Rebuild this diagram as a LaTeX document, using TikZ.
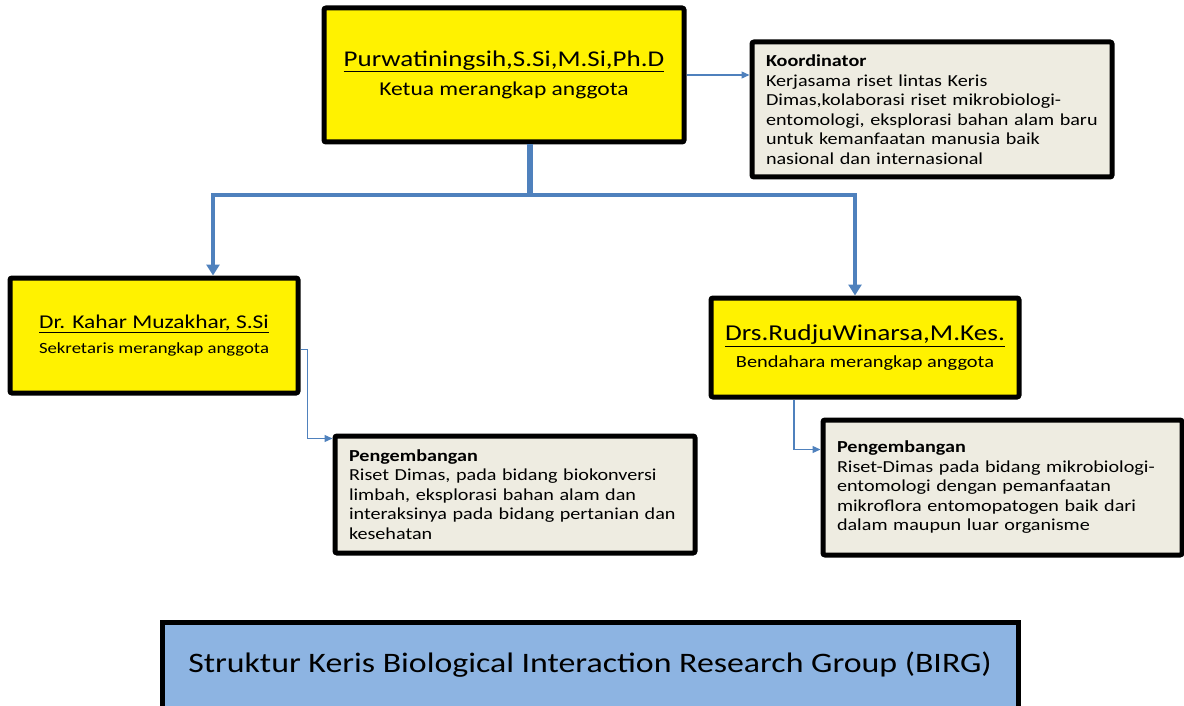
\documentclass[tikz,border=0pt]{standalone}
\usepackage{fontspec}
\setmainfont{Carlito}[FakeStretch=1.2]
\usetikzlibrary{arrows.meta}
\definecolor{boxgrey}{HTML}{EEECE1}
\definecolor{linkblue}{HTML}{4F81BD}
\definecolor{titleblue}{HTML}{8DB4E2}

\begin{document}
\begin{tikzpicture}[x=1pt,y=-1pt,
  namebox/.style={draw=black,line width=5pt,fill=yellow,rounded corners=2pt,align=center,inner sep=0pt},
  descbox/.style={draw=black,line width=5pt,fill=boxgrey,rounded corners=2pt,align=left,inner xsep=14pt,
    font=\fontsize{16.8}{19.5}\selectfont},
  trunk/.style={draw=linkblue,line width=4.5pt},
  link/.style={draw=linkblue,line width=1.3pt,-{Triangle[width=7pt,length=8pt]}}]
\useasboundingbox (0,0) rectangle (1184,706);
% Pengurus
\node[namebox,minimum width=360pt,minimum height=134pt] (ketua) at (504,75)
  {\fontsize{22.5}{28}\selectfont\underline{Purwatiningsih,S.Si,M.Si,Ph.D}\\[9pt]
   \fontsize{19.6}{24}\selectfont Ketua merangkap anggota};
\node[namebox,minimum width=288pt,minimum height=115pt] (sekre) at (154,335.5)
  {\fontsize{19.5}{24}\selectfont\underline{Dr. Kahar Muzakhar, S.Si}\\[8pt]
   \fontsize{15.6}{19}\selectfont Sekretaris merangkap anggota};
\node[namebox,minimum width=308pt,minimum height=99pt] (benda) at (865,347.5)
  {\fontsize{22.7}{28}\selectfont\underline{Drs.RudjuWinarsa,M.Kes.}\\[8pt]
   \fontsize{17}{21}\selectfont Bendahara merangkap anggota};
% Tugas
\node[descbox,minimum width=360pt,minimum height=135pt,text width=332pt] (koord) at (932,109.5)
  {\textbf{Koordinator}\\
   Kerjasama riset lintas Keris\\
   Dimas,kolaborasi riset mikrobiologi-\\
   entomologi, eksplorasi bahan alam baru\\
   untuk kemanfaatan manusia baik\\
   nasional dan internasional};
\node[descbox,minimum width=360pt,minimum height=117pt,text width=332pt] (pengL) at (515,494.5)
  {\textbf{Pengembangan}\\
   Riset Dimas, pada bidang biokonversi\\
   limbah, eksplorasi bahan alam dan\\
   interaksinya pada bidang pertanian dan\\
   kesehatan};
\node[descbox,minimum width=359pt,minimum height=135pt,text width=331pt] (pengR) at (1002.5,487.5)
  {\textbf{Pengembangan}\\
   Riset-Dimas pada bidang mikrobiologi-\\
   entomologi dengan pemanfaatan\\
   mikroflora entomopatogen baik dari\\
   dalam maupun luar organisme};
% Judul
\node[draw=black,line width=5pt,fill=titleblue,minimum width=856pt,minimum height=86pt,
  font=\fontsize{28.2}{34}\selectfont] (judul) at (590,665)
  {Struktur Keris Biological Interaction Research Group (BIRG)};
% Garis hubung
\coordinate (split) at (530,195);
\coordinate (forkL) at (213,195);
\coordinate (forkR) at (855,195);
\draw[trunk,line width=6pt] (ketua.south -| split) -- (split);
\draw[trunk,-{Triangle[width=13pt,length=11pt]}] (split) -- (forkL) -- (forkL |- sekre.north);
\draw[trunk,-{Triangle[width=13pt,length=11pt]}] (split) -- (forkR) -- (forkR |- benda.north);
\draw[link] (ketua.east) -- (koord.west |- ketua.east);
\draw[link] ([yshift=-14pt]sekre.east) -- ++(7,0) |- ([yshift=-5pt]pengL.north west);
\draw[link] ([xshift=-71pt]benda.south) |- ([yshift=-32pt]pengR.north west);
\end{tikzpicture}
\end{document}
